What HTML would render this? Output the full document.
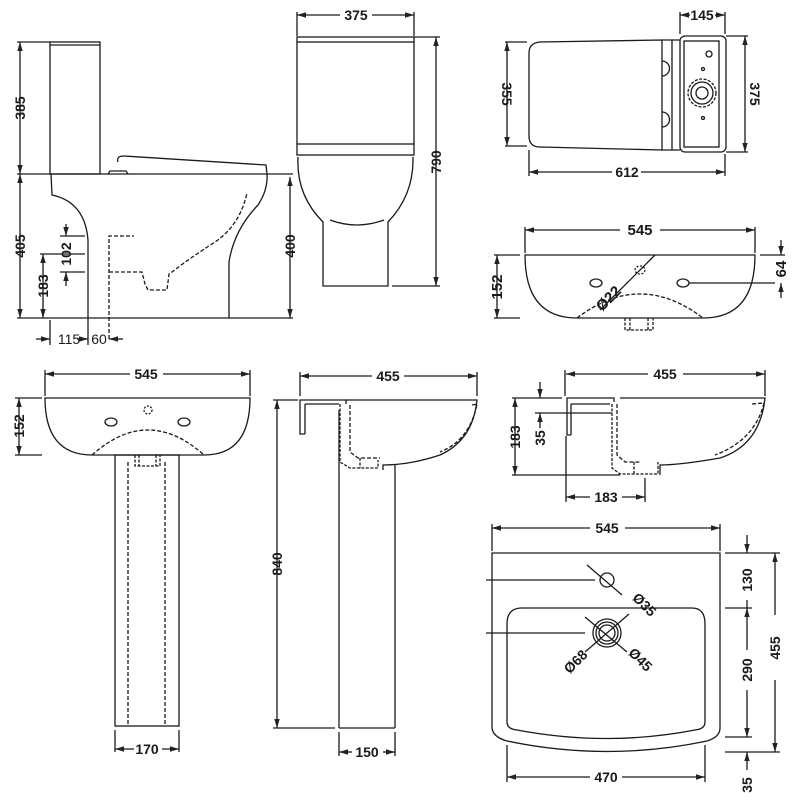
<!DOCTYPE html>
<html><head><style>html,body{margin:0;padding:0;background:#fff}svg{display:block}text{font-family:"Liberation Sans",sans-serif;font-weight:bold;font-size:14px;fill:#1a1a1a}</style></head><body>
<svg width="800" height="800" viewBox="0 0 800 800" xmlns="http://www.w3.org/2000/svg">
<defs><marker id="a" viewBox="0 0 10 10" refX="10" refY="5" markerWidth="7" markerHeight="7" orient="auto-start-reverse"><path d="M0,2 L10,5 L0,8 z" fill="#222"/></marker></defs>
<g fill="none" stroke="#1a1a1a" stroke-width="1.3">
<!-- Toilet side -->
<rect x="50" y="42" width="50" height="132"/><line x1="50" y1="45" x2="100" y2="45"/>
<path d="M118,162 Q116,156 124,156 L266,165 L267,174"/><path d="M108,174 L110,171 L126,171 L128,174"/>
<path d="M50,174 L267,174"/>
<path d="M51,174 L52,195 Q85,202 88,240 L88,318"/>
<path d="M267,174 Q268,190 258,205 Q234,230 229,262 L229,318"/>
<line x1="17" y1="318" x2="293" y2="318"/><line x1="17" y1="174" x2="50" y2="174"/><line x1="267" y1="174" x2="293" y2="174"/>
<line x1="17" y1="42" x2="50" y2="42"/>
<path d="M109,339 L109,236 L134,236" stroke-dasharray="4,2"/>
<path d="M109,272 L142,272 L145,284 L148,290 L167,290 L169,274 L172,272 Q190,258 215,242 Q240,225 247,193" stroke-dasharray="4,2"/>
<line x1="20" y1="42" x2="20" y2="174" marker-start="url(#a)" marker-end="url(#a)"/>
<line x1="20" y1="174" x2="20" y2="318" marker-start="url(#a)" marker-end="url(#a)"/>
<line x1="290" y1="177" x2="290" y2="318" marker-start="url(#a)" marker-end="url(#a)"/>
<line x1="60" y1="236" x2="85" y2="236"/><line x1="60" y1="272" x2="85" y2="272"/><line x1="40" y1="254" x2="85" y2="254"/>
<line x1="66" y1="224" x2="66" y2="236" marker-end="url(#a)"/><line x1="66" y1="286" x2="66" y2="272" marker-end="url(#a)"/>
<line x1="43" y1="254" x2="43" y2="318" marker-start="url(#a)" marker-end="url(#a)"/>
<line x1="50" y1="320" x2="50" y2="345"/><line x1="88" y1="318" x2="88" y2="345"/>
<line x1="36" y1="339" x2="50" y2="339" marker-end="url(#a)"/><line x1="77" y1="339" x2="88" y2="339" marker-end="url(#a)"/>
<line x1="123" y1="339" x2="109" y2="339" marker-end="url(#a)"/>
<!-- Toilet front -->
<rect x="297" y="37" width="117" height="5"/><line x1="297" y1="42" x2="297" y2="144"/><line x1="414" y1="42" x2="414" y2="144"/>
<rect x="297" y="144" width="117" height="11"/>
<path d="M298,157 Q296,195 323,222 L323,286 L388,286 L388,222 Q414,195 413,157"/>
<path d="M330,220 Q357,230 384,220"/>
<line x1="297" y1="12" x2="297" y2="36"/><line x1="414" y1="12" x2="414" y2="36"/>
<line x1="297" y1="15" x2="340" y2="15" marker-start="url(#a)"/><line x1="372" y1="15" x2="414" y2="15" marker-end="url(#a)"/>
<line x1="414" y1="37" x2="440" y2="37"/><line x1="392" y1="286" x2="440" y2="286"/>
<line x1="436" y1="37" x2="436" y2="286" marker-start="url(#a)" marker-end="url(#a)"/>
<!-- top view -->
<path d="M540,42 L662,40 L662,150 L540,147 Q529,147 529,136 L529,53 Q529,43 540,42Z"/>
<line x1="662" y1="40" x2="680" y2="40"/><line x1="662" y1="150" x2="680" y2="150"/><line x1="672" y1="40" x2="672" y2="150"/>
<path d="M662,61 A6,6 0 0 1 662,76"/><path d="M662,112 A6,6 0 0 1 662,127"/>
<rect x="680" y="36" width="46" height="116" rx="5"/><rect x="684" y="41" width="35" height="106"/>
<circle cx="709" cy="54" r="3"/><circle cx="703" cy="69" r="1.5"/><circle cx="703" cy="118" r="1.5"/>
<circle cx="702" cy="93" r="14" stroke-dasharray="3,1.5"/><circle cx="702" cy="93" r="11"/><circle cx="702" cy="93" r="6"/>
<line x1="680" y1="12" x2="680" y2="34"/><line x1="725" y1="12" x2="725" y2="34"/>
<line x1="680" y1="15" x2="690" y2="15" marker-start="url(#a)"/><line x1="715" y1="15" x2="725" y2="15" marker-end="url(#a)"/>
<line x1="726" y1="36" x2="748" y2="36"/><line x1="726" y1="152" x2="748" y2="152"/>
<line x1="745" y1="36" x2="745" y2="152" marker-start="url(#a)" marker-end="url(#a)"/>
<line x1="505" y1="42" x2="527" y2="42"/><line x1="505" y1="146" x2="527" y2="146"/>
<line x1="507" y1="42" x2="507" y2="146" marker-start="url(#a)" marker-end="url(#a)"/>
<line x1="529" y1="150" x2="529" y2="176"/><line x1="725" y1="154" x2="725" y2="176"/>
<line x1="529" y1="172" x2="612" y2="172" marker-start="url(#a)"/><line x1="641" y1="172" x2="725" y2="172" marker-end="url(#a)"/>
<!-- basin front small -->
<path d="M525,255 L755,255 Q755,318 703,318 L577,318 Q525,318 525,255Z"/>
<path d="M577,318 Q640,270 703,318" stroke-dasharray="4,2"/>
<ellipse cx="596" cy="283" rx="6" ry="4"/><ellipse cx="683" cy="283" rx="6" ry="4"/><ellipse cx="640" cy="270" rx="5" ry="4" stroke-dasharray="2,1.5"/>
<line x1="655" y1="255" x2="600" y2="310"/><line x1="689" y1="283" x2="775" y2="283"/>
<path d="M625,318 L625,330 L653,330 L653,318 M630,318 L630,330 M648,318 L648,330" stroke-dasharray="3,1.5"/>
<line x1="525" y1="227" x2="525" y2="253"/><line x1="755" y1="227" x2="755" y2="253"/>
<line x1="525" y1="230" x2="620" y2="230" marker-start="url(#a)"/><line x1="660" y1="230" x2="755" y2="230" marker-end="url(#a)"/>
<line x1="494" y1="255" x2="520" y2="255"/><line x1="494" y1="318" x2="520" y2="318"/>
<line x1="497" y1="255" x2="497" y2="318" marker-start="url(#a)" marker-end="url(#a)"/>
<line x1="760" y1="255" x2="785" y2="255"/>
<line x1="781" y1="240" x2="781" y2="255" marker-end="url(#a)"/><line x1="781" y1="298" x2="781" y2="283" marker-end="url(#a)"/>
<!-- pedestal front -->
<path d="M45,398 L250,398 Q250,455 204,455 L92,455 Q45,455 45,398Z"/>
<path d="M92,455 Q148,405 204,455" stroke-dasharray="4,2"/>
<ellipse cx="111" cy="422" rx="6" ry="4"/><ellipse cx="184" cy="422" rx="6" ry="4"/><circle cx="148" cy="410" r="4" stroke-dasharray="2,1.5"/>
<rect x="115" y="455" width="64" height="271"/>
<line x1="128" y1="462" x2="128" y2="726" stroke-dasharray="4,2"/><line x1="165" y1="462" x2="165" y2="726" stroke-dasharray="4,2"/>
<path d="M135,455 L135,466 L160,466 L160,455 M139,455 L139,466 M156,455 L156,466" stroke-dasharray="3,1.5"/>
<line x1="45" y1="370" x2="45" y2="396"/><line x1="250" y1="370" x2="250" y2="396"/>
<line x1="45" y1="374" x2="130" y2="374" marker-start="url(#a)"/><line x1="163" y1="374" x2="250" y2="374" marker-end="url(#a)"/>
<line x1="15" y1="398" x2="42" y2="398"/><line x1="15" y1="455" x2="42" y2="455"/>
<line x1="19" y1="398" x2="19" y2="455" marker-start="url(#a)" marker-end="url(#a)"/>
<line x1="115" y1="730" x2="115" y2="752"/><line x1="179" y1="730" x2="179" y2="752"/>
<line x1="115" y1="749" x2="134" y2="749" marker-start="url(#a)"/><line x1="162" y1="749" x2="179" y2="749" marker-end="url(#a)"/>
<!-- pedestal side -->
<path d="M305,434 L300,434 L300,400 L346,400 L346,404"/><line x1="305" y1="404" x2="305" y2="434"/><line x1="305" y1="404" x2="339" y2="404"/>
<path d="M346,400 L477,400 Q473,440 440,455 Q410,465 383,465 L383,470"/>
<path d="M472,405 L477,404 Q470,440 440,452" stroke-dasharray="4,2"/><path d="M350,405 L350,452 L358,458 L380,458" stroke-dasharray="4,2"/>
<path d="M340,404 L340,462 L350,468 L378,468 L378,460 M360,458 L360,468" stroke-dasharray="3,1.5"/>
<line x1="339" y1="410" x2="339" y2="728"/><line x1="395" y1="465" x2="395" y2="728"/><line x1="339" y1="728" x2="395" y2="728"/>
<line x1="300" y1="372" x2="300" y2="396"/><line x1="477" y1="372" x2="477" y2="396"/>
<line x1="300" y1="376" x2="372" y2="376" marker-start="url(#a)"/><line x1="404" y1="376" x2="477" y2="376" marker-end="url(#a)"/>
<line x1="273" y1="400" x2="298" y2="400"/><line x1="273" y1="728" x2="335" y2="728"/>
<line x1="277" y1="400" x2="277" y2="728" marker-start="url(#a)" marker-end="url(#a)"/>
<line x1="339" y1="732" x2="339" y2="756"/><line x1="395" y1="732" x2="395" y2="756"/>
<line x1="339" y1="752" x2="352" y2="752" marker-start="url(#a)"/><line x1="383" y1="752" x2="395" y2="752" marker-end="url(#a)"/>
<!-- right side basin -->
<path d="M571,435 L567,435 L567,398 L614,398 L614,402"/><line x1="571" y1="404" x2="571" y2="435"/><line x1="571" y1="404" x2="610" y2="404"/>
<path d="M620,398 L765,398 Q760,445 720,458 Q680,465 660,465 L660,475"/>
<path d="M752,404 L764,403 Q755,440 715,455" stroke-dasharray="4,2"/><path d="M617,404 L617,455 L625,462 L640,462" stroke-dasharray="4,2"/>
<path d="M612,404 L612,468 L620,474 L658,474 L658,462 M634,462 L634,474" stroke-dasharray="3,1.5"/>
<line x1="565" y1="370" x2="565" y2="396"/><line x1="765" y1="370" x2="765" y2="396"/>
<line x1="566" y1="374" x2="648" y2="374" marker-start="url(#a)"/><line x1="683" y1="374" x2="765" y2="374" marker-end="url(#a)"/>
<line x1="512" y1="398" x2="562" y2="398"/><line x1="512" y1="475" x2="620" y2="475"/><line x1="535" y1="413" x2="612" y2="413"/>
<line x1="515" y1="398" x2="515" y2="475" marker-start="url(#a)" marker-end="url(#a)"/>
<line x1="540" y1="382" x2="540" y2="398" marker-end="url(#a)"/><line x1="540" y1="428" x2="540" y2="413" marker-end="url(#a)"/>
<line x1="566" y1="436" x2="566" y2="502"/><line x1="645" y1="478" x2="645" y2="502"/>
<line x1="566" y1="497" x2="590" y2="497" marker-start="url(#a)"/><line x1="622" y1="497" x2="645" y2="497" marker-end="url(#a)"/>
<!-- plan basin -->
<path d="M492,553 L720,553 L720,728 Q720,737 707,741 Q607,762 507,741 Q493,737 492,728Z"/>
<path d="M522,608 L692,608 Q705,608 705,624 L705,722 Q705,729 695,730 Q607,747 517,730 Q507,729 507,722 L507,624 Q507,608 522,608Z"/>
<circle cx="607" cy="580" r="7"/>
<circle cx="607" cy="633" r="14"/><circle cx="607" cy="633" r="11"/><circle cx="607" cy="633" r="8"/>
<line x1="587" y1="565" x2="622" y2="595"/><line x1="486" y1="580" x2="595" y2="580"/><line x1="486" y1="633" x2="585" y2="633"/>
<line x1="585" y1="617" x2="627" y2="652"/><line x1="629" y1="614" x2="585" y2="652"/>
<line x1="492" y1="524" x2="492" y2="551"/><line x1="720" y1="524" x2="720" y2="551"/>
<line x1="492" y1="528" x2="590" y2="528" marker-start="url(#a)"/><line x1="625" y1="528" x2="720" y2="528" marker-end="url(#a)"/>
<line x1="725" y1="553" x2="780" y2="553"/><line x1="725" y1="608" x2="752" y2="608"/><line x1="725" y1="737" x2="752" y2="737"/><line x1="725" y1="752" x2="780" y2="752"/>
<line x1="747" y1="535" x2="747" y2="553" marker-end="url(#a)"/><line x1="747" y1="600" x2="747" y2="608"/>
<line x1="747" y1="608" x2="747" y2="650" marker-start="url(#a)"/><line x1="747" y1="690" x2="747" y2="737" marker-end="url(#a)"/>
<line x1="747" y1="770" x2="747" y2="752" marker-end="url(#a)"/>
<line x1="775" y1="553" x2="775" y2="615" marker-start="url(#a)"/><line x1="775" y1="680" x2="775" y2="752" marker-end="url(#a)"/>
<line x1="507" y1="745" x2="507" y2="782"/><line x1="705" y1="745" x2="705" y2="782"/>
<line x1="507" y1="777" x2="590" y2="777" marker-start="url(#a)"/><line x1="622" y1="777" x2="705" y2="777" marker-end="url(#a)"/>
</g>
<g>
<text transform="translate(25,108) rotate(-90)" text-anchor="middle">385</text>
<text transform="translate(25,246) rotate(-90)" text-anchor="middle">405</text>
<text transform="translate(295,246) rotate(-90)" text-anchor="middle">400</text>
<text transform="translate(71,254) rotate(-90)" text-anchor="middle">102</text>
<text transform="translate(48,286) rotate(-90)" text-anchor="middle">183</text>
<text x="69" y="344" text-anchor="middle" style="font-weight:normal">115</text>
<text x="99" y="344" text-anchor="middle" style="font-weight:normal">60</text>
<text x="356" y="20" text-anchor="middle">375</text>
<text transform="translate(441,162) rotate(-90)" text-anchor="middle">790</text>
<text x="702" y="20" text-anchor="middle">145</text>
<text transform="translate(750,94) rotate(90)" text-anchor="middle">375</text>
<text transform="translate(502,94) rotate(90)" text-anchor="middle">355</text>
<text x="627" y="177" text-anchor="middle">612</text>
<text x="640" y="235" text-anchor="middle" style="font-size:15px">545</text>
<text transform="translate(502,287) rotate(-90)" text-anchor="middle" style="font-size:15px">152</text>
<text transform="translate(786,269) rotate(-90)" text-anchor="middle" style="font-size:15px">64</text>
<text transform="translate(612,302) rotate(-45)" text-anchor="middle" style="font-size:15px">Ø22</text>
<text x="146" y="379" text-anchor="middle">545</text>
<text transform="translate(24,426) rotate(-90)" text-anchor="middle">152</text>
<text x="147" y="754" text-anchor="middle">170</text>
<text x="388" y="381" text-anchor="middle">455</text>
<text transform="translate(282,564) rotate(-90)" text-anchor="middle">840</text>
<text x="367" y="757" text-anchor="middle">150</text>
<text x="665" y="379" text-anchor="middle">455</text>
<text transform="translate(520,437) rotate(-90)" text-anchor="middle">183</text>
<text transform="translate(545,438) rotate(-90)" text-anchor="middle">35</text>
<text x="606" y="502" text-anchor="middle">183</text>
<text x="607" y="533" text-anchor="middle">545</text>
<text transform="translate(752,580) rotate(-90)" text-anchor="middle">130</text>
<text transform="translate(752,670) rotate(-90)" text-anchor="middle">290</text>
<text transform="translate(752,785) rotate(-90)" text-anchor="middle">35</text>
<text transform="translate(780,648) rotate(-90)" text-anchor="middle">455</text>
<text x="606" y="782" text-anchor="middle">470</text>
<text transform="translate(641,608) rotate(45)" text-anchor="middle">Ø35</text>
<text transform="translate(579,665) rotate(-45)" text-anchor="middle">Ø68</text>
<text transform="translate(637,663) rotate(45)" text-anchor="middle">Ø45</text>
</g>
</svg>
</body></html>
